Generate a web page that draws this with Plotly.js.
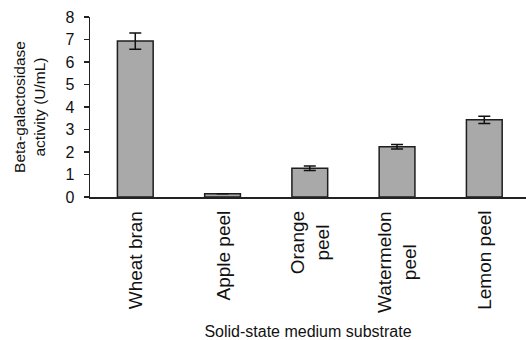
<!DOCTYPE html>
<html>
<head>
<meta charset="utf-8">
<script src="https://cdn.plot.ly/plotly-3.0.1.min.js"></script>
<style>html,body{margin:0;padding:0;background:#fff;}#chart{width:526px;height:340px;}</style>
</head>
<body>
<div id="chart"></div>
<script>
var categories = ["Wheat bran", "Apple peel", "Orange<br>peel", "Watermelon<br>peel", "Lemon peel"];
var activity = [6.93, 0.15, 1.28, 2.23, 3.43];
var errors = [0.36, 0, 0.1, 0.1, 0.16];
var yTicks = [0, 1, 2, 3, 4, 5, 6, 7, 8];

var font = "Liberation Sans, Arial, sans-serif";
var trace = {
  type: "bar",
  x: categories,
  y: activity,
  width: 0.41,
  marker: {color: "#a9a9a9", line: {color: "#1e1e1e", width: 1.5}},
  error_y: {type: "data", array: errors, visible: true, color: "#111", thickness: 1.5, width: 6}
};
var annotations = categories.map(function (c) {
  return {
    x: c, xref: "x", y: 0, yref: "paper",
    text: c, textangle: -90, showarrow: false,
    xanchor: "center", yanchor: "top", yshift: -12, align: "center",
    font: {family: font, size: 19, color: "#111"}
  };
});
var layout = {
  width: 526, height: 340,
  margin: {l: 90, r: 0, t: 17, b: 143},
  paper_bgcolor: "#fff", plot_bgcolor: "#fff",
  showlegend: false,
  font: {family: font, color: "#111", size: 14},
  annotations: annotations,
  xaxis: {
    type: "category",
    range: [-0.519, 4.478],
    showline: true, linecolor: "#222", linewidth: 1.5,
    ticks: "", showticklabels: false,
    title: {text: "Solid-state medium substrate", font: {family: font, size: 16}, standoff: 128},
    showgrid: false, zeroline: false
  },
  yaxis: {
    range: [0, 8],
    tickvals: yTicks,
    showline: true, linecolor: "#222", linewidth: 1.5,
    ticks: "outside", ticklen: 5, tickcolor: "#222", tickwidth: 1.5,
    tickfont: {size: 16}, ticklabelstandoff: 6,
    title: {text: "Beta-galactosidase<br>activity (U/mL)", font: {family: font, size: 15.5}, standoff: 16},
    showgrid: false, zeroline: false
  }
};
Plotly.newPlot("chart", [trace], layout, {displayModeBar: false, staticPlot: true});
</script>
</body>
</html>
